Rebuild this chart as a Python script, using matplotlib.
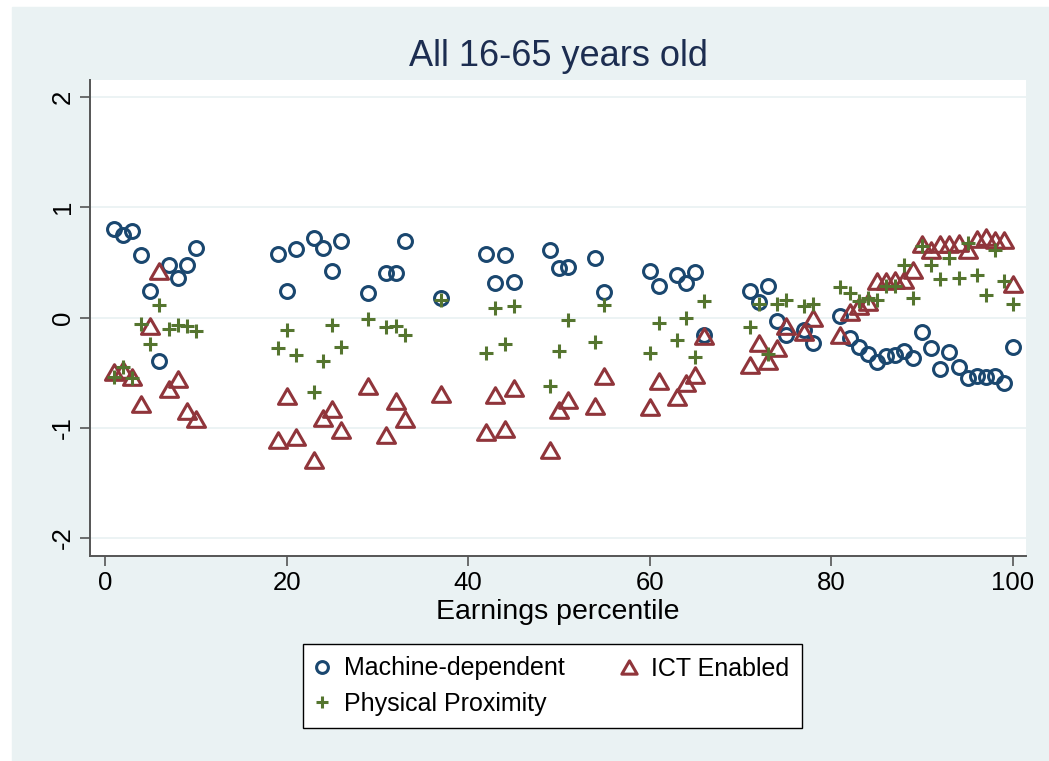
import matplotlib.pyplot as plt
from matplotlib.patches import Rectangle
from matplotlib.path import Path
import numpy as np

plt.rcParams['font.family'] = ['Liberation Sans', 'DejaVu Sans']

# earnings percentiles that have an observation
pct = [1, 2, 3, 4, 5, 6, 7, 8, 9, 10,
       19, 20, 21, 23, 24, 25, 26,
       29, 31, 32, 33, 37,
       42, 43, 44, 45,
       49, 50, 51, 54, 55,
       60, 61, 63, 64, 65, 66,
       71, 72, 73, 74, 75, 77, 78,
       81, 82, 83, 84, 85, 86, 87, 88, 89, 90,
       91, 92, 93, 94, 95, 96, 97, 98, 99, 100]

machine = [0.80, 0.75, 0.78, 0.57, 0.24, -0.39, 0.48, 0.36, 0.48, 0.63,
           0.58, 0.24, 0.62, 0.72, 0.63, 0.42, 0.69,
           0.22, 0.40, 0.40, 0.69, 0.18,
           0.58, 0.31, 0.57, 0.32,
           0.61, 0.45, 0.46, 0.54, 0.23,
           0.42, 0.29, 0.39, 0.31, 0.41, -0.16,
           0.24, 0.14, 0.29, -0.03, -0.16, -0.11, -0.23,
           0.01, -0.19, -0.27, -0.33, -0.40, -0.35, -0.34, -0.30, -0.37, -0.13,
           -0.28, -0.47, -0.31, -0.45, -0.55, -0.53, -0.54, -0.53, -0.59, -0.27]

ict = [-0.49, -0.48, -0.54, -0.78, -0.08, 0.42, -0.65, -0.56, -0.85, -0.92,
       -1.11, -0.71, -1.08, -1.29, -0.91, -0.83, -1.02,
       -0.62, -1.07, -0.76, -0.92, -0.69,
       -1.04, -0.70, -1.01, -0.64,
       -1.20, -0.84, -0.75, -0.80, -0.53,
       -0.81, -0.58, -0.72, -0.59, -0.52, -0.17,
       -0.43, -0.23, -0.39, -0.28, -0.08, -0.13, 0.00,
       -0.16, 0.05, 0.10, 0.14, 0.33, 0.33, 0.34, 0.34, 0.43, 0.67,
       0.61, 0.67, 0.67, 0.68, 0.61, 0.71, 0.73, 0.70, 0.70, 0.30]

proximity = [-0.54, -0.45, -0.55, -0.06, -0.24, 0.11, -0.10, -0.07, -0.08, -0.12,
             -0.28, -0.11, -0.34, -0.68, -0.39, -0.07, -0.27,
             -0.01, -0.09, -0.08, -0.16, 0.16,
             -0.32, 0.09, -0.24, 0.10,
             -0.62, -0.30, -0.02, -0.22, 0.11,
             -0.32, -0.05, -0.20, 0.00, -0.36, 0.15,
             -0.09, 0.12, -0.33, 0.12, 0.16, 0.10, 0.12,
             0.28, 0.22, 0.15, 0.18, 0.16, 0.29, 0.29, 0.48, 0.18, 0.65,
             0.48, 0.35, 0.54, 0.36, 0.68, 0.39, 0.20, 0.61, 0.33, 0.12]

xticks = [0, 20, 40, 60, 80, 100]
yticks = [-2, -1, 0, 1, 2]

navy = '#1A476F'
maroon = '#90353B'
green = '#55752F'
bg = '#EAF2F3'

# equilateral-ish triangle like stata's
tri = Path([(-1, -0.866), (1, -0.866), (0, 0.866), (-1, -0.866)],
           [Path.MOVETO, Path.LINETO, Path.LINETO, Path.CLOSEPOLY])

fig = plt.figure(figsize=(10.49, 7.61), dpi=100)
fig.patches.append(Rectangle((12 / 1049, 0), 1, 1 - 7 / 761,
                             transform=fig.transFigure, color=bg, zorder=-10))

ax = fig.add_axes([90 / 1049, 1 - 556 / 761, 936 / 1049, 476 / 761])
ax.set_facecolor('white')

ax.plot(pct, machine, ls='none', marker='o', ms=10, mew=2.2, mfc='none',
        mec=navy, label='Machine-dependent', zorder=3)
ax.plot(pct, ict, ls='none', marker=tri, ms=13, mew=2.2, mfc='none',
        mec=maroon, label='ICT Enabled', zorder=3)
ax.plot(pct, proximity, ls='none', marker='+', ms=10.5, mew=2.2,
        mec=green, label='Physical Proximity', zorder=3)

ax.set_xlim(-1.65, 101.43)
ax.set_ylim(-2.163, 2.154)
ax.set_xticks(xticks)
ax.set_yticks(yticks)
ax.set_yticklabels([str(v) for v in yticks], rotation=90, va='center')
for v in yticks:
    ax.axhline(v, color=bg, lw=1.3, zorder=1)

for s in ['top', 'right']:
    ax.spines[s].set_visible(False)
for s in ['left', 'bottom']:
    ax.spines[s].set_color('#555555')
    ax.spines[s].set_linewidth(1.4)
ax.tick_params(length=7, width=1.2, color='#555555', labelsize=18.5, pad=4)

ax.set_xlabel('Earnings percentile', fontsize=20.5, labelpad=3)
fig.text(558 / 1049, 1 - 57 / 761, 'All 16-65 years old', fontsize=26,
         color='#1C2D50', ha='center', va='center')

h, l = ax.get_legend_handles_labels()
order = [0, 2, 1]
leg = fig.legend([h[i] for i in order], [l[i] for i in order], ncol=2,
                 loc='upper left', bbox_to_anchor=(303 / 1049, 1 - 644 / 761),
                 borderaxespad=0, fontsize=18, frameon=True, fancybox=False,
                 edgecolor='black', framealpha=1, markerscale=0.85,
                 handlelength=0.55, handletextpad=0.6, columnspacing=2.3,
                 borderpad=0.5, labelspacing=0.45)
leg.get_frame().set_linewidth(1.0)

fig.savefig('out.png', dpi=100, facecolor='white')
